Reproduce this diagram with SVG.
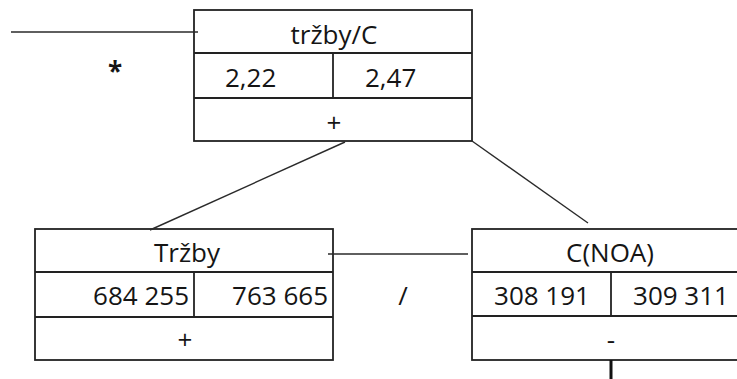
<svg xmlns="http://www.w3.org/2000/svg" width="737" height="379" viewBox="0 0 737 379">
  <style>
    .cell { fill: #ffffff; stroke: #222222; stroke-width: 1.8; }
    .rule { stroke: #222222; stroke-width: 1.8; fill: none; }
    .link { stroke: #2a2a2a; stroke-width: 1.4; fill: none; }
    text { font-family: "Open Sans", "Liberation Sans", sans-serif; font-size: 26px; fill: #151515; }
    .mid { text-anchor: middle; }
    .end { text-anchor: end; }
  </style>
  <rect width="737" height="379" fill="#ffffff"/>

  <g id="node-trzby-c">
    <rect class="cell" x="194" y="10" width="278" height="131"/>
    <line class="rule" x1="194" y1="53" x2="472" y2="53"/>
    <line class="rule" x1="194" y1="98" x2="472" y2="98"/>
    <line class="rule" x1="333" y1="53" x2="333" y2="98"/>
    <text class="mid" x="334" y="44">tržby/C</text>
    <text x="225" y="87">2,22</text>
    <text x="365" y="87">2,47</text>
    <text class="mid" x="334" y="132">+</text>
  </g>

  <g id="node-trzby">
    <rect class="cell" x="35" y="229" width="298" height="131"/>
    <line class="rule" x1="35" y1="272" x2="333" y2="272"/>
    <line class="rule" x1="35" y1="317" x2="333" y2="317"/>
    <line class="rule" x1="194" y1="272" x2="194" y2="317"/>
    <text class="mid" x="187" y="262">Tržby</text>
    <text class="end" x="189" y="305">684 255</text>
    <text class="end" x="328" y="305">763 665</text>
    <text class="mid" x="185" y="349">+</text>
  </g>

  <g id="node-c-noa">
    <rect class="cell" x="472" y="229" width="278" height="131"/>
    <line class="rule" x1="472" y1="272" x2="750" y2="272"/>
    <line class="rule" x1="472" y1="316" x2="750" y2="316"/>
    <line class="rule" x1="611" y1="272" x2="611" y2="316"/>
    <text class="mid" x="610" y="262">C(NOA)</text>
    <text class="mid" x="542" y="305">308 191</text>
    <text class="mid" x="681" y="305">309 311</text>
    <text class="mid" x="611" y="349">-</text>
  </g>

  <g id="operators">
    <text class="mid" x="115" y="81" font-size="15" font-weight="bold">*</text>
    <text class="mid" x="403" y="305">/</text>
  </g>

  <g id="connectors">
    <line class="link" x1="11" y1="32" x2="198" y2="32"/>
    <line class="link" x1="345" y1="142" x2="150" y2="230"/>
    <line class="link" x1="472" y1="141" x2="588" y2="223"/>
    <line class="link" x1="328" y1="254" x2="468" y2="254"/>
    <line x1="611" y1="360" x2="611" y2="379" stroke="#111111" stroke-width="3"/>
  </g>
</svg>
